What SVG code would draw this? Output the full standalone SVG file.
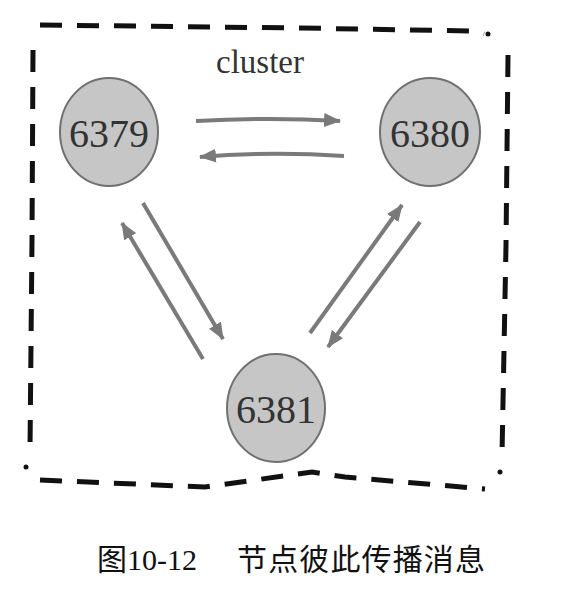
<svg xmlns="http://www.w3.org/2000/svg" width="582" height="594" viewBox="0 0 582 594">
<style>
.node ellipse{fill:#c6c6c6;stroke:#707070;stroke-width:2}
.node text{font-family:"Liberation Serif",serif;font-size:40px;fill:#333;text-anchor:middle}
.edge{fill:none;stroke:#7a7a7a;stroke-width:4;marker-end:url(#ah)}
.border{fill:none;stroke:#111;stroke-width:5;stroke-dasharray:22 15}
.dot{fill:#111}
.title{font-family:"Liberation Serif",serif;font-size:33px;fill:#333;text-anchor:middle}
.cap{font-family:"Liberation Serif","Noto Sans CJK SC",serif;font-size:30px;fill:#111}
</style>
<defs>
<marker id="ah" markerUnits="userSpaceOnUse" markerWidth="18" markerHeight="14" refX="16" refY="7" orient="auto">
<path d="M0,0 L17,7 L0,14 Z" fill="#7a7a7a"/>
</marker>
</defs>
<g id="cluster">
<path class="border" d="M40,25 L300,28 L470,31 Q478,32 484,34"/>
<circle class="dot" cx="488" cy="34" r="2.5"/>
<path class="border" d="M33,50 L32,240 L30,450"/>
<circle class="dot" cx="26" cy="467" r="2.5"/>
<path class="border" d="M508,55 L506,245 L502,455"/>
<circle class="dot" cx="500" cy="472" r="2.5"/>
<path class="border" d="M40,480 L205,487 L312,472 L345,477 L485,489"/>
<text class="title" x="260" y="73">cluster</text>
</g>
<g id="n6379" class="node">
<ellipse cx="109" cy="132" rx="49" ry="54"/>
<text x="109" y="147">6379</text>
</g>
<g id="n6380" class="node">
<ellipse cx="430" cy="132" rx="50" ry="54"/>
<text x="430" y="147">6380</text>
</g>
<g id="n6381" class="node">
<ellipse cx="276" cy="408" rx="49" ry="54"/>
<text x="276" y="423">6381</text>
</g>
<g id="connectors">
<path class="edge" d="M196,121 Q270,117 340,121"/>
<path class="edge" d="M344,156 Q270,151 200,157"/>
<path class="edge" d="M143,203 L223,339"/>
<path class="edge" d="M203,359 L122,223"/>
<path class="edge" d="M310,333 L402,205"/>
<path class="edge" d="M420,222 L328,347"/>
</g>
<g id="caption">
<text class="cap" x="97" y="570" textLength="100" lengthAdjust="spacingAndGlyphs">图10-12</text>
<text class="cap" x="237" y="570" textLength="248" lengthAdjust="spacing">节点彼此传播消息</text>
</g>
</svg>
